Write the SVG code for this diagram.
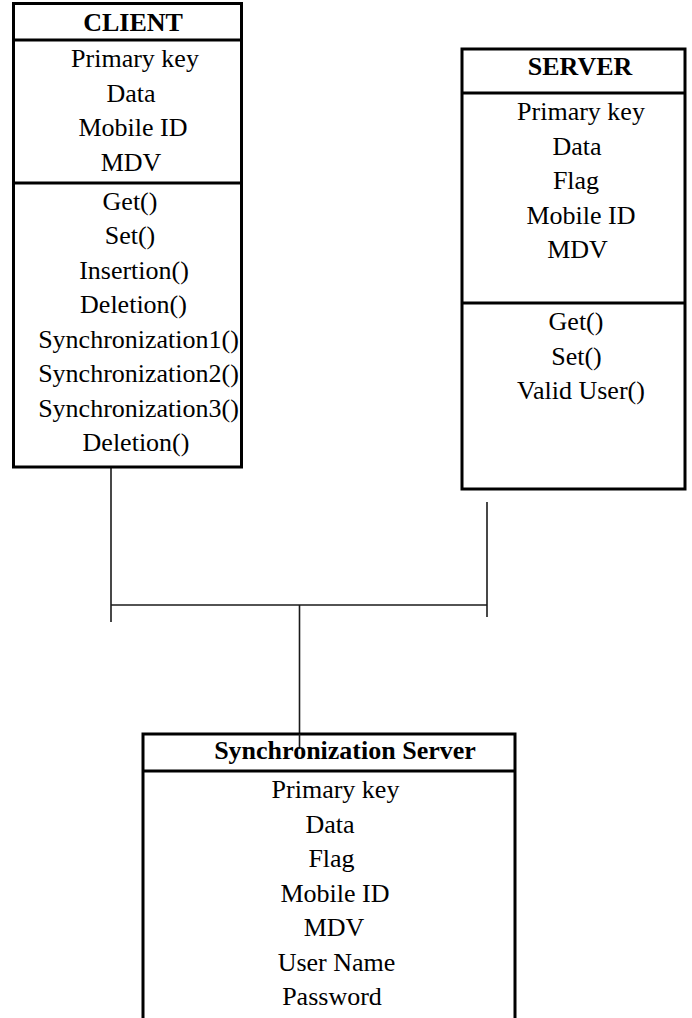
<svg xmlns="http://www.w3.org/2000/svg" width="692" height="1018" viewBox="0 0 692 1018">
<style>
text{font-family:"Liberation Serif","Times New Roman",serif;font-size:26px;fill:#000;text-anchor:middle}
.t{font-weight:bold}
.box{fill:#fff;stroke:#000;stroke-width:3}
.div{stroke:#000;stroke-width:3}
.con{stroke:#1a1a1a;stroke-width:1.6;fill:none}
</style>
<rect width="692" height="1018" fill="#fff"/>
<g id="connectors">
<line class="con" x1="111" y1="467" x2="111" y2="622"/>
<line class="con" x1="111" y1="605" x2="487" y2="605"/>
<line class="con" x1="487" y1="502" x2="487" y2="617"/>
<line class="con" x1="299.5" y1="605" x2="299.5" y2="734"/>
</g>
<g id="client">
<rect class="box" x="13.5" y="3.5" width="228" height="463.5"/>
<line class="div" x1="13.5" y1="40" x2="241.5" y2="40"/>
<line class="div" x1="13.5" y1="183" x2="241.5" y2="183"/>
<text class="t" x="133" y="31">CLIENT</text>
<text x="135" y="67">Primary key</text>
<text x="131" y="101.5">Data</text>
<text x="133" y="136">Mobile ID</text>
<text x="131" y="170.5">MDV</text>
<text x="130" y="209.5">Get()</text>
<text x="130" y="244">Set()</text>
<text x="134" y="278.5">Insertion()</text>
<text x="133.5" y="313">Deletion()</text>
<text x="138.5" y="347.5">Synchronization1()</text>
<text x="138.5" y="382">Synchronization2()</text>
<text x="138.5" y="416.5">Synchronization3()</text>
<text x="136" y="451">Deletion()</text>
</g>
<g id="server">
<rect class="box" x="462" y="49" width="223" height="440"/>
<line class="div" x1="462" y1="93" x2="685" y2="93"/>
<line class="div" x1="462" y1="303" x2="685" y2="303"/>
<text class="t" x="580" y="75">SERVER</text>
<text x="581" y="120">Primary key</text>
<text x="577" y="154.5">Data</text>
<text x="576" y="189">Flag</text>
<text x="581" y="223.5">Mobile ID</text>
<text x="577.5" y="258">MDV</text>
<text x="576" y="330">Get()</text>
<text x="576.5" y="364.5">Set()</text>
<text x="581" y="399">Valid User()</text>
</g>
<g id="sync-server">
<path class="box" d="M143 1020 V734 H515 V1020" style="fill:#fff"/>
<line class="div" x1="143" y1="771" x2="515" y2="771"/>
<line class="con" x1="299.5" y1="734" x2="299.5" y2="749"/>
<text class="t" x="345" y="759">Synchronization Server</text>
<text x="335.5" y="798">Primary key</text>
<text x="330" y="832.5">Data</text>
<text x="331.5" y="867">Flag</text>
<text x="335" y="901.5">Mobile ID</text>
<text x="334" y="936">MDV</text>
<text x="336.5" y="970.5">User Name</text>
<text x="332" y="1005">Password</text>
</g>
</svg>
